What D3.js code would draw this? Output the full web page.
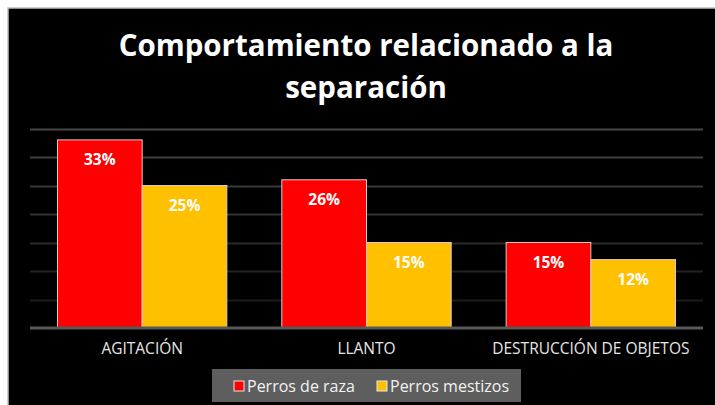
<!DOCTYPE html>
<html lang="es">
<head>
<meta charset="UTF-8">
<script src="https://d3js.org/d3.v7.min.js"></script>
<style>
  body { margin: 0; background: #fff; }
  svg { display: block; }
</style>
</head>
<body>
<div id="chart"></div>
<script>
// data
const categories = ["AGITACIÓN", "LLANTO", "DESTRUCCIÓN DE OBJETOS"];
const seriesNames = ["Perros de raza", "Perros mestizos"];
const razaValues = [33, 26, 15];
const mestizoValues = [25, 15, 12];
const yTicks = [0, 5, 10, 15, 20, 25, 30, 35];
const colors = ["#ff0000", "#ffc000"];

const W = 715, H = 405;
const plot = {left: 30, right: 703, top: 128.5, bottom: 328};

const svg = d3.select("#chart").append("svg")
    .attr("width", W).attr("height", H);

// white frame + light border, then black chart area
svg.append("rect").attr("x", 0).attr("y", 0).attr("width", W).attr("height", H).attr("fill", "#fff");
svg.append("rect").attr("x", 8).attr("y", 8).attr("width", W).attr("height", H)
    .attr("fill", "#000").attr("stroke", "#bdbdbd").attr("stroke-width", 1.5);

const font = "'Open Sans', sans-serif";

// title
const title = svg.append("text")
    .attr("text-anchor", "middle")
    .attr("fill", "#fff").attr("font-family", font)
    .attr("font-weight", "bold").attr("font-size", 29.5);
title.append("tspan").attr("x", 366).attr("y", 56).text("Comportamiento relacionado a la");
title.append("tspan").attr("x", 366).attr("y", 98).text("separación");

const x0 = d3.scaleBand().domain(categories).range([plot.left, plot.right]).paddingInner(0.245).paddingOuter(0.1225);
const x1 = d3.scaleBand().domain(seriesNames).range([0, x0.bandwidth()]);
const y = d3.scaleLinear().domain([0, 35]).range([plot.bottom, plot.top]);

// gridlines, fading toward the bottom
const gridColor = d3.scaleLinear().domain([35, 5]).range(["#474747", "#1c1c1c"]);
svg.append("g").selectAll("line")
  .data(yTicks.filter(d => d > 0))
  .join("line")
    .attr("x1", plot.left).attr("x2", plot.right)
    .attr("y1", d => Math.round(y(d)) + 0.5).attr("y2", d => Math.round(y(d)) + 0.5)
    .attr("stroke", d => gridColor(d)).attr("stroke-width", 2);

const rows = categories.map((c, i) => ({cat: c, vals: [razaValues[i], mestizoValues[i]]}));

const groups = svg.append("g").selectAll("g")
  .data(rows)
  .join("g")
    .attr("transform", d => `translate(${x0(d.cat)},0)`);

groups.selectAll("rect")
  .data(d => d.vals.map((v, j) => ({s: seriesNames[j], v: v, j: j})))
  .join("rect")
    .attr("x", d => x1(d.s))
    .attr("y", d => y(d.v))
    .attr("width", x1.bandwidth())
    .attr("height", d => y(0) - y(d.v))
    .attr("fill", d => colors[d.j])
    .attr("stroke", "#e0c8c8").attr("stroke-width", 1);

groups.selectAll("text")
  .data(d => d.vals.map((v, j) => ({s: seriesNames[j], v: v})))
  .join("text")
    .attr("x", d => x1(d.s) + x1.bandwidth() / 2)
    .attr("y", d => y(d.v) + 25.5)
    .attr("text-anchor", "middle")
    .attr("fill", "#fff").attr("font-family", font)
    .attr("font-weight", "bold").attr("font-size", 15.5)
    .text(d => d.v + "%");

// x axis
const xAxis = svg.append("g")
    .attr("transform", `translate(0,${plot.bottom})`)
    .call(d3.axisBottom(x0).tickSize(0).tickPadding(15));
xAxis.select(".domain").attr("stroke", "#595959").attr("stroke-width", 3)
    .attr("d", `M${plot.left},0H${plot.right}`);
xAxis.selectAll("text")
    .attr("fill", "#e6e6e6").attr("font-family", font).attr("font-size", 15.5);

// legend
const legend = svg.append("g").attr("transform", "translate(212,369)");
legend.append("rect").attr("width", 309).attr("height", 33).attr("fill", "#5e5e5e");
const legX = [22, 165];
seriesNames.forEach((name, i) => {
  legend.append("rect")
      .attr("x", legX[i]).attr("y", 12).attr("width", 10).attr("height", 10)
      .attr("fill", colors[i]).attr("stroke", "#e6e6e6").attr("stroke-width", 1);
  legend.append("text")
      .attr("x", legX[i] + 13).attr("y", 22.5)
      .attr("fill", "#f2f2f2").attr("font-family", font).attr("font-size", 16)
      .text(name);
});
</script>
</body>
</html>
